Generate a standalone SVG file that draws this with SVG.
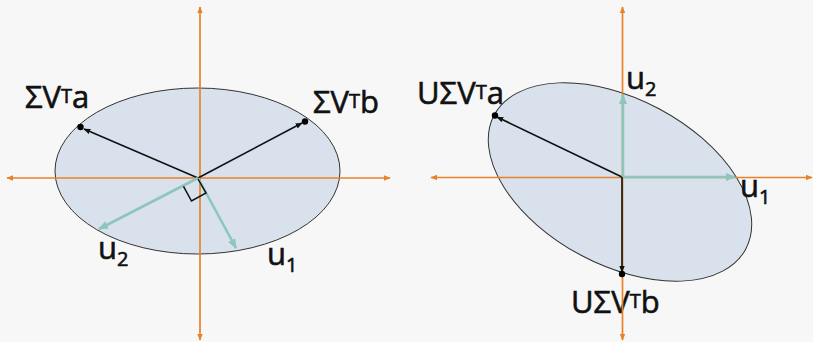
<svg xmlns="http://www.w3.org/2000/svg" width="813" height="342" viewBox="0 0 813 342">
  <style>
    .bg { fill: #f7f7f7; }
    .ell { fill: #d9e1ec; stroke: #333333; stroke-width: 1; }
    .axis { stroke: #e8822a; stroke-width: 1.7; fill: none; }
    .vec { stroke: #111111; stroke-width: 1.6; fill: none; }
    .uvec { stroke: #8cc6bd; stroke-width: 2.6; fill: none; }
    .dot { fill: #000000; }
    .lbl { font-family: "Open Sans", "Noto Sans", "DejaVu Sans", sans-serif; font-size: 31px; fill: #111111; stroke: #111111; stroke-width: 0.6; }
    .sup { font-size: 20px; }
    .sub { font-size: 20px; }
  </style>
  <defs>
    <marker id="oarr" viewBox="0 0 10 10" refX="9" refY="5" markerUnits="userSpaceOnUse" markerWidth="7" markerHeight="7" orient="auto">
      <path d="M0,1 L10,5 L0,9 Z" fill="#e8822a"/>
    </marker>
    <marker id="karr" viewBox="0 0 10 10" refX="9" refY="5" markerUnits="userSpaceOnUse" markerWidth="7" markerHeight="7" orient="auto">
      <path d="M0,1 L10,5 L0,9 Z" fill="#111111"/>
    </marker>
    <marker id="tarr" viewBox="0 0 10 10" refX="9" refY="5" markerUnits="userSpaceOnUse" markerWidth="10" markerHeight="10" orient="auto">
      <path d="M0,1 L10,5 L0,9 Z" fill="#8cc6bd"/>
    </marker>
  </defs>
  <rect class="bg" x="0" y="0" width="813" height="342"/>

  <g id="left-panel">
    <ellipse id="left-ellipse" class="ell" cx="197.5" cy="171" rx="142.5" ry="83"/>
    <g id="left-axes">
      <line class="axis" x1="200" y1="178" x2="390" y2="178" marker-end="url(#oarr)"/>
      <line class="axis" x1="200" y1="178" x2="7" y2="178" marker-end="url(#oarr)"/>
      <line class="axis" x1="200" y1="178" x2="200" y2="7" marker-end="url(#oarr)"/>
      <line class="axis" x1="200" y1="178" x2="200" y2="340" marker-end="url(#oarr)"/>
    </g>
    <g id="left-connectors">
      <line class="vec" x1="198" y1="178" x2="84" y2="129" marker-end="url(#karr)"/>
      <line class="vec" x1="198" y1="178" x2="302" y2="123" marker-end="url(#karr)"/>
      <line class="uvec" x1="198" y1="178" x2="99" y2="229" marker-end="url(#tarr)"/>
      <line class="uvec" x1="198" y1="178" x2="236" y2="248" marker-end="url(#tarr)"/>
      <path d="M198,179 L206,193 L191.5,201 L183.5,186.3" fill="none" stroke="#111111" stroke-width="1.5"/>
    </g>
    <circle class="dot" cx="80.5" cy="127" r="3.2"/>
    <circle class="dot" cx="305" cy="121.5" r="3.2"/>
    <g id="label-sva"><text class="lbl" x="25" y="108">ΣV<tspan class="sup" dy="-5">T</tspan><tspan dy="5">a</tspan></text></g>
    <g id="label-svb"><text class="lbl" x="313" y="113">ΣV<tspan class="sup" dy="-5">T</tspan><tspan dy="5">b</tspan></text></g>
    <g id="label-u2-left"><text class="lbl" x="98" y="259">u<tspan class="sub" dy="7">2</tspan></text></g>
    <g id="label-u1-left"><text class="lbl" x="267" y="265">u<tspan class="sub" dy="7">1</tspan></text></g>
  </g>

  <g id="right-panel">
    <ellipse id="right-ellipse" class="ell" cx="620" cy="182" rx="142.5" ry="83" transform="rotate(28 620 182)"/>
    <g id="right-labels-under">
      <g id="label-usvb"><text class="lbl" x="571" y="313">UΣV<tspan class="sup" dy="-5">T</tspan><tspan dy="5">b</tspan></text></g>
    </g>
    <g id="right-axes">
      <line class="axis" x1="622.5" y1="177.5" x2="812" y2="177.5" marker-end="url(#oarr)"/>
      <line class="axis" x1="622.5" y1="177.5" x2="431" y2="177.5" marker-end="url(#oarr)"/>
      <line class="axis" x1="622.5" y1="177.5" x2="622.5" y2="7" marker-end="url(#oarr)"/>
      <line class="axis" x1="622.5" y1="177.5" x2="622.5" y2="340" marker-end="url(#oarr)"/>
    </g>
    <g id="right-connectors">
      <line class="vec" x1="622" y1="177" x2="497" y2="117" marker-end="url(#karr)"/>
      <line class="vec" x1="622" y1="177" x2="622" y2="272" marker-end="url(#karr)"/>
      <line class="uvec" x1="623" y1="177" x2="623" y2="95" marker-end="url(#tarr)"/>
      <line class="uvec" x1="623" y1="177" x2="735" y2="177" marker-end="url(#tarr)"/>
    </g>
    <circle class="dot" cx="495" cy="115.5" r="3.2"/>
    <circle class="dot" cx="622" cy="274" r="3.2"/>
    <g id="label-usva"><text class="lbl" x="417" y="104">UΣV<tspan class="sup" dy="-5">T</tspan><tspan dy="5">a</tspan></text></g>
    <g id="label-u2-right"><text class="lbl" x="626" y="89">u<tspan class="sub" dy="7">2</tspan></text></g>
    <g id="label-u1-right"><text class="lbl" x="740" y="197">u<tspan class="sub" dy="7">1</tspan></text></g>
  </g>
</svg>
